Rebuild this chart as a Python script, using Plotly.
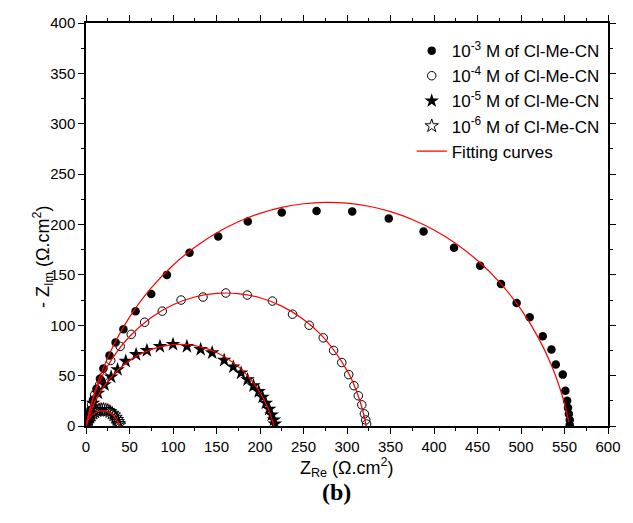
import plotly.graph_objects as go

# ---- data (units: ohm.cm^2) ----
# 10^-3 M (filled circles)
x1 = [1.5, 3, 5, 8, 12, 16, 20, 27, 34, 43, 57, 75, 93, 119, 152, 186, 225, 265, 306, 348, 388, 423, 453, 477, 495, 510, 525, 535, 540, 548, 551, 553, 554, 555, 556, 556]
y1 = [3, 9, 16, 26, 37, 47, 57, 70, 83, 96, 114, 131, 150, 172, 188, 203, 212, 213.5, 213, 206, 193, 177, 159, 141, 122, 108, 89, 76, 61, 51, 35, 25, 18, 12, 6, 1]
# 10^-4 M (open circles)
x2 = [2.6, 3.7, 6.4, 10, 15.7, 20, 28.4, 39.3, 52, 67.4, 87.6, 109.3, 134.5, 160.7, 185.4, 214.3, 237.4, 256.5, 272.7, 284.6, 294, 302, 308, 313, 317, 320, 321.5, 322.5]
y2 = [4, 11, 21, 31, 41, 49, 65, 79, 91, 103, 114, 125, 128, 132, 130, 124, 111, 100, 87.5, 75, 63, 51, 40, 30, 21, 12, 6, 2]
# 10^-5 M (filled stars)
x3 = [2, 4.5, 8.2, 13.8, 21.3, 28.9, 36.3, 45.7, 57.6, 70, 85, 100, 116, 131.8, 145, 158.8, 169.3, 178.3, 185.7, 192.5, 198.5, 203, 206.7, 210.5, 213.5, 216, 217]
y3 = [4, 12.7, 22.7, 32.7, 41, 48.7, 56, 64.3, 71, 75, 79, 81, 79, 76, 72.7, 65.3, 58.7, 52.7, 46, 40, 34.3, 28.7, 22.7, 16.7, 11, 6, 2]
# 10^-6 M (open stars)
x4 = [2, 3, 4.5, 6, 8, 10, 12.5, 15, 17.5, 20, 22.5, 25, 27.5, 30, 32, 34, 35.5, 36.5, 37.5, 38]
y4 = [3, 6, 8.5, 10.5, 12.5, 14, 15, 15.8, 16.2, 16.3, 16, 15.3, 14.2, 12.5, 10.8, 8.5, 6.3, 4.2, 2.2, 0.8]

# fitting curves
fx1 = [0, 10, 25, 50, 75, 100, 125, 150, 175, 200, 225, 250, 275, 300, 325, 350, 375, 400, 425, 450, 475, 500, 520, 535, 545, 550, 555]
fy1 = [0, 34, 68, 108, 137, 159.6, 177.4, 191.6, 202.7, 211.1, 217, 220.6, 222, 221.2, 218.1, 212.8, 205, 194.6, 181.2, 164.2, 143, 115.7, 87.5, 60.2, 36.7, 22.1, 4]
fx2 = [0, 10, 25, 50, 75, 100, 125, 150, 175, 200, 225, 250, 275, 300, 310, 318, 322]
fy2 = [0, 32.3, 59.8, 88.8, 107.7, 120.3, 128, 131.6, 131.4, 127.3, 119, 105.8, 86, 55.2, 36.8, 15.9, 0]
fx3 = [0, 10, 25, 50, 75, 100, 125, 150, 175, 190, 200, 210, 216]
fy3 = [0, 23.7, 44.4, 64.9, 76, 80.7, 79.7, 72.9, 58.9, 45.5, 33.2, 16, 0]
fx4 = [0, 3, 6, 10, 15, 19, 24, 28, 32, 35, 38]
fy4 = [0, 6.6, 10, 12.8, 14.6, 15, 14.3, 12.8, 10, 6.6, 0]

names = ["10<sup>-3</sup> M of Cl-Me-CN", "10<sup>-4</sup> M of Cl-Me-CN",
         "10<sup>-5</sup> M of Cl-Me-CN", "10<sup>-6</sup> M of Cl-Me-CN"]
fit_name = "Fitting curves"

FONT = "Liberation Sans, Arial, sans-serif"

fig = go.Figure()
fig.add_trace(go.Scatter(x=x1, y=y1, mode="markers", name=names[0],
                         marker=dict(symbol="circle", size=8.5, color="black")))
fig.add_trace(go.Scatter(x=x2, y=y2, mode="markers", name=names[1],
                         marker=dict(symbol="circle-open", size=8.5, color="black", line=dict(width=1))))
fig.add_trace(go.Scatter(x=x3, y=y3, mode="markers", name=names[2],
                         marker=dict(symbol="star", size=11, color="black")))
fig.add_trace(go.Scatter(x=x4, y=y4, mode="markers", name=names[3],
                         marker=dict(symbol="star-open", size=10, color="black", line=dict(width=1))))
for i, (fx, fy) in enumerate([(fx1, fy1), (fx2, fy2), (fx3, fy3), (fx4, fy4)]):
    fig.add_trace(go.Scatter(x=fx, y=fy, mode="lines", name=fit_name,
                             line=dict(color="red", width=1.2, shape="spline"),
                             legendgroup="fit", showlegend=(i == 0)))

axis_common = dict(showline=True, linecolor="black", linewidth=1.5, mirror="ticks",
                   ticks="outside", ticklen=6, tickwidth=1.3, tickcolor="black",
                   showgrid=False, zeroline=False,
                   tickfont=dict(family=FONT, size=15, color="black"),
                   minor=dict(ticks="outside", ticklen=3.5, tickwidth=1.2, tickcolor="black", dtick=25))

fig.update_xaxes(range=[0, 600], dtick=50, tick0=0, **axis_common)
fig.update_yaxes(range=[0, 400], dtick=50, tick0=0, **axis_common)

fig.update_layout(
    width=633, height=523,
    margin=dict(l=86, r=13, t=23, b=97),
    paper_bgcolor="white", plot_bgcolor="white",
    showlegend=True,
    legend=dict(x=0.624, y=0.975, xanchor="left", yanchor="top",
                bgcolor="rgba(0,0,0,0)", font=dict(family=FONT, size=17, color="black"),
                tracegroupgap=0, itemwidth=30),
    annotations=[
        dict(text="Z<sub>Re</sub> (\u03a9.cm<sup>2</sup>)", x=0.5, y=-0.104, xref="paper", yref="paper",
             xanchor="center", yanchor="middle", showarrow=False,
             font=dict(family=FONT, size=18, color="black")),
        dict(text="- Z<sub>Im</sub> (\u03a9.cm<sup>2</sup>)", x=-0.082, y=0.42, xref="paper", yref="paper",
             xanchor="center", yanchor="middle", textangle=-90, showarrow=False,
             font=dict(family=FONT, size=18, color="black")),
        dict(text="<b>(b)</b>", x=0.48, y=-0.165, xref="paper", yref="paper",
             xanchor="center", yanchor="middle", showarrow=False,
             font=dict(family="Liberation Serif, Times New Roman, serif", size=24, color="black")),
    ],
)

fig.write_html("out.html")
